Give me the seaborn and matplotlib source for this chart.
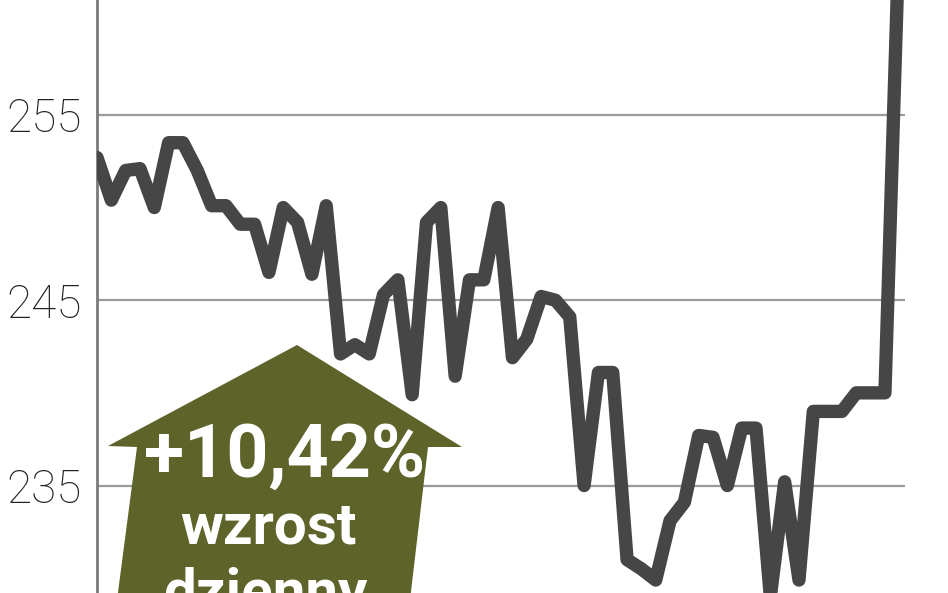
import matplotlib
matplotlib.use("Agg")
import matplotlib.pyplot as plt
from matplotlib.patches import Polygon
import numpy as np
import pandas as pd
import seaborn as sns

# notowania (kolejne sesje)
kurs = [252.7, 250.4, 252.0, 252.1, 250.0, 253.5, 253.5, 252.0, 250.1, 250.1,
        249.1, 249.1, 246.5, 250.0, 249.2, 246.4, 250.1, 242.1, 242.6, 242.1,
        245.3, 246.1, 239.9, 249.2, 250.0, 240.9, 246.1, 246.1, 250.0, 241.9,
        242.9, 245.2, 245.0, 244.1, 235.0, 241.1, 241.1, 231.0, 230.5, 229.9,
        233.1, 234.1, 237.7, 237.6, 235.0, 238.1, 238.1, 229.0, 235.2, 229.9,
        239.0, 239.0, 239.0, 240.0, 240.0, 240.0, 265.0]
sesja = list(range(len(kurs)))
yticks = [235, 245, 255]
zmiana = "+10,42%"
opis = ["wzrost", "dzienny"]

df = pd.DataFrame({"sesja": sesja, "kurs": kurs})

sns.set_theme(style="white")
plt.rcParams['font.family'] = ['Roboto', 'DejaVu Sans']

fig = plt.figure(figsize=(9.48, 5.93), dpi=100)
ax = fig.add_axes([97 / 948, 0, (905 - 97) / 948, 1])

sns.lineplot(data=df, x="sesja", y="kurs", ax=ax, color="#464646",
             linewidth=9.6, solid_capstyle="round", solid_joinstyle="round",
             zorder=5)

ax.set_xlim(0, len(kurs) - 1 + 0.4)
ax.set_ylim(229.2, 261.2)
ax.set_yticks(yticks)
ax.set_yticklabels([str(t) for t in yticks], fontsize=33, fontweight="light",
                   color="#222222")
ax.set_xticks([])
ax.set_xlabel("")
ax.set_ylabel("")
ax.tick_params(axis="y", length=0, pad=11)
for t in yticks:
    ax.axhline(t, color="#9a9a9a", linewidth=1.6, zorder=1)

for s in ["top", "right", "bottom"]:
    ax.spines[s].set_visible(False)
ax.spines["left"].set_color("#7a7a7a")
ax.spines["left"].set_linewidth(2)

# strzalka z opisem (w pikselach figury, od gory)
def px(x, y):
    return (x / 948, 1 - y / 593)

strzalka = Polygon([px(297, 345), px(462, 447), px(428, 447), px(410, 600),
                    px(117, 600), px(137, 447), px(108, 446)],
                   closed=True, transform=fig.transFigure,
                   facecolor="#5d6329", edgecolor="none", zorder=3)
ax.add_patch(strzalka)

fig.text(*px(285, 477), zmiana, ha="center", va="baseline", color="white",
         fontsize=53, fontweight="bold", zorder=6)
fig.text(*px(268, 543), opis[0], ha="center", va="baseline", color="white",
         fontsize=42, fontweight="bold", zorder=6)
fig.text(*px(265, 609), opis[1], ha="center", va="baseline", color="white",
         fontsize=42, fontweight="bold", zorder=6)

fig.savefig("out.png", dpi=100)
